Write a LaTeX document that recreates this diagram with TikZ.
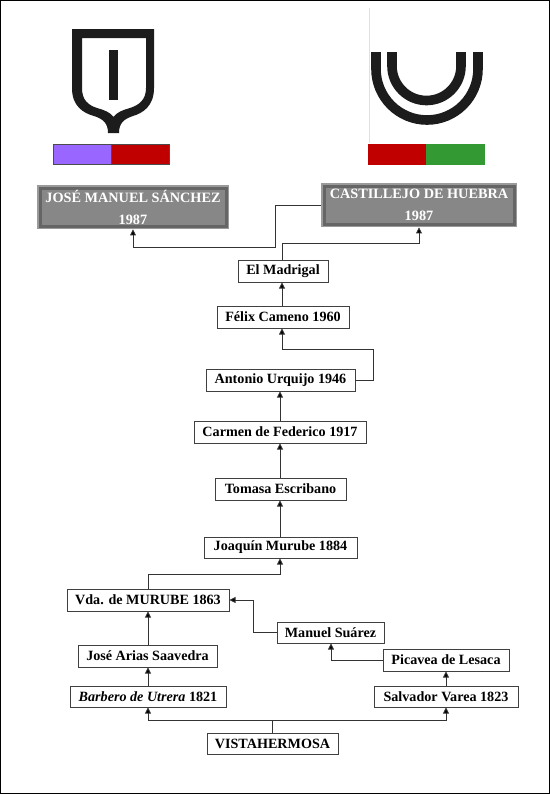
\documentclass[tikz,border=0pt]{standalone}
\usepackage{fontspec}
\setmainfont{Liberation Serif}
\usetikzlibrary{arrows.meta}
\definecolor{lin}{HTML}{333333}
\definecolor{gface}{HTML}{878787}
\definecolor{gedge}{HTML}{656565}
\definecolor{glight}{HTML}{9A9A9A}
\definecolor{emblem}{HTML}{1C1C1C}
\definecolor{purplebar}{RGB}{153,102,255}
\definecolor{redbar}{RGB}{192,0,0}
\definecolor{greenbar}{RGB}{51,153,51}
\tikzset{
  x=0.75pt,y=-0.75pt,
  box/.style={draw=black!75,line width=0.65pt,fill=white,inner sep=0pt,font=\fontsize{10.6}{12}\selectfont\bfseries},
  conn/.style={draw=lin,line width=0.62pt,-{Triangle[length=4.6pt,width=4.4pt,fill=black]}},
  plain/.style={draw=lin,line width=0.62pt},
}
\newcommand{\fambox}[6]{% name x1 y1 x2 y2 text
  \node[box,minimum width=(#4-#2)*0.75pt,minimum height=(#5-#3)*0.75pt,anchor=center] (#1) at ({(#2+#4)/2},{(#3+#5)/2}) {#6};}
\newcommand{\grayb}[6]{%
  \fill[glight] (#2,#3) rectangle (#4,#5);
  \fill[gedge] ({#2+1.5},{#3+1.5}) rectangle ({#4-1.5},{#5-1.5});
  \fill[gface] ({#2+4.5},{#3+4.5}) rectangle ({#4-4.5},{#5-4.5});
  \node[inner sep=0pt,minimum width=(#4-#2)*0.75pt,minimum height=(#5-#3)*0.75pt,text=white,align=center,font=\fontsize{10.7}{16.5}\selectfont\bfseries] (#1) at ({(#2+#4)/2},{(#3+#5)/2}) {#6};}
\begin{document}
\begin{tikzpicture}
\useasboundingbox (0,0) rectangle (550,794);
\fill[white] (0,0) rectangle (550,794);
\draw[black,line width=1.1pt] (0.7,0.7) rectangle (549.3,793.3);
% emblems
\fill[emblem,even odd rule]
  (72,29) -- (154,29) -- (154,88)
  .. controls (154,106) and (143,113) .. (133,116)
  .. controls (124,119) and (119,123) .. (119,133)
  -- (108,133)
  .. controls (108,123) and (103,119) .. (94,116)
  .. controls (83,113) and (72,106) .. (72,88) -- cycle
  (82,38) -- (146,38) -- (146,88)
  .. controls (146,100) and (139,105) .. (130,108)
  .. controls (123,110) and (117,112) .. (113.5,117)
  .. controls (110,112) and (104,110) .. (97,108)
  .. controls (88,105) and (82,100) .. (82,88) -- cycle;
\fill[emblem] (109,50) rectangle (118,100);
\draw[black!70,fill=purplebar] (53.5,144.5) rectangle (111,164);
\draw[black!70,fill=redbar] (111,144.5) rectangle (169,164);
\draw[black!12,line width=0.5pt] (369,8) -- (369,143);
\draw[emblem,line width=7.2pt] (376,52) -- (376,69) arc[start angle=180,end angle=0,radius=51] -- (478,52);
\draw[emblem,line width=7.2pt] (392,52) -- (392,66) arc[start angle=180,end angle=0,radius=34.5] -- (461,52);
\fill[redbar] (368,144) rectangle (425.5,165);
\fill[greenbar] (425.5,144) rectangle (485,165);
% gray boxes
\grayb{jose}{37}{185}{229}{229}{JOSÉ MANUEL SÁNCHEZ\\1987}
\grayb{cast}{321}{183}{517}{227}{CASTILLEJO DE HUEBRA\\1987}
% pedigree
\fambox{vista}{207}{733}{338}{754}{VISTAHERMOSA}
\fambox{barb}{70}{686}{226}{707}{\textit{Barbero de Utrera} 1821}
\fambox{salv}{374}{686}{518}{707}{Salvador Varea 1823}
\fambox{arias}{78}{645}{217}{667}{José Arias Saavedra}
\fambox{pica}{383}{649}{509}{671}{Picavea de Lesaca}
\fambox{manu}{277}{622}{384}{643}{Manuel Suárez}
\fambox{vda}{67}{589}{229}{611}{Vda. de MURUBE 1863}
\fambox{joaq}{204}{537}{357}{558}{Joaquín Murube 1884}
\fambox{toma}{215}{478}{346}{500}{Tomasa Escribano}
\fambox{carm}{194}{421}{366}{443}{Carmen de Federico 1917}
\fambox{anto}{206}{369}{355}{391}{Antonio Urquijo 1946}
\fambox{feli}{217}{306}{349}{328}{Félix Cameno 1960}
\fambox{madr}{238}{260}{328}{282}{El Madrigal}
% connectors
\draw[plain] (272,0 |- vista.north) -- (272,720) coordinate (split);
\draw[conn] (split) -| (148,0 |- barb.south);
\draw[conn] (split) -| (446,0 |- salv.south);
\draw[conn] (148,0 |- barb.north) -- (148,0 |- arias.south);
\draw[conn] (148,0 |- arias.north) -- (148,0 |- vda.south);
\draw[conn] (148,0 |- vda.north) -- (148,574) -| (280,0 |- joaq.south);
\draw[conn] (280,0 |- joaq.north) -- (280,0 |- toma.south);
\draw[conn] (280,0 |- toma.north) -- (280,0 |- carm.south);
\draw[conn] (280,0 |- carm.north) -- (280,0 |- anto.south);
\draw[conn] (anto.east) -- (373,380) -- (373,349) -| (282,0 |- feli.south);
\draw[conn] (282,0 |- feli.north) -- (282,0 |- madr.south);
\draw[conn] (282,0 |- madr.north) -- (282,243) -| (419,0 |- cast.south);
\draw[conn] (cast.west) -- (275,205) -- (275,247) -| (133,0 |- jose.south);
\draw[conn] (446,0 |- salv.north) -- (446,0 |- pica.south);
\draw[conn] (pica.west) -| (331,0 |- manu.south);
\draw[conn] (manu.west) -- (253,632.5) -- (253,600) -- (vda.east);
\end{tikzpicture}
\end{document}
